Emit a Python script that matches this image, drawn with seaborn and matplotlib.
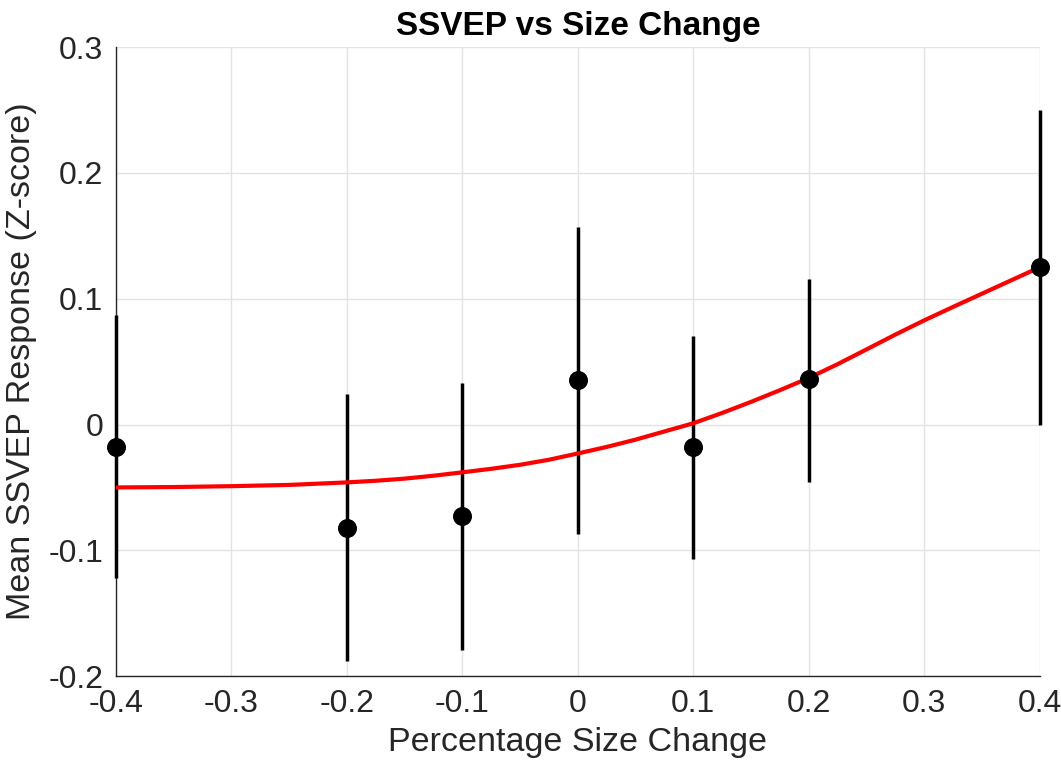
import numpy as np
import pandas as pd
import matplotlib
matplotlib.use("Agg")
import matplotlib.pyplot as plt
import seaborn as sns

# measured points (mean + error bar limits)
size_change = [-0.4, -0.2, -0.1, 0.0, 0.1, 0.2, 0.4]
mean_resp = [-0.018, -0.082, -0.073, 0.035, -0.018, 0.036, 0.125]
err_top = [0.087, 0.024, 0.033, 0.157, 0.070, 0.116, 0.250]
err_bottom = [-0.122, -0.188, -0.179, -0.087, -0.107, -0.046, 0.000]

# fitted curve
fit_x = [-0.4, -0.35, -0.3, -0.25, -0.2, -0.175, -0.15, -0.125, -0.1, -0.075, -0.05,
         -0.025, 0.0, 0.025, 0.05, 0.075, 0.1, 0.125, 0.15, 0.175, 0.2, 0.225,
         0.25, 0.275, 0.3, 0.325, 0.35, 0.375, 0.4]
fit_y = [-0.050, -0.0497, -0.049, -0.048, -0.046, -0.0447, -0.043, -0.0407, -0.038,
         -0.0352, -0.032, -0.028, -0.023, -0.0178, -0.012, -0.0055, 0.001, 0.0092,
         0.018, 0.0273, 0.037, 0.048, 0.0597, 0.0715, 0.0828, 0.0935, 0.104, 0.1145, 0.125]

xticks = [-0.4, -0.3, -0.2, -0.1, 0, 0.1, 0.2, 0.3, 0.4]
yticks = [-0.2, -0.1, 0, 0.1, 0.2, 0.3]

sns.set_style("whitegrid")
plt.rcParams['font.family'] = ['Liberation Sans', 'DejaVu Sans']

df = pd.DataFrame({"x": size_change, "y": mean_resp})
fit = pd.DataFrame({"x": fit_x, "y": fit_y})

fig = plt.figure(figsize=(10.61, 7.71), dpi=100)
ax = fig.add_axes([0.1093, 0.123, 0.8707, 0.816])

yerr = [np.array(mean_resp) - np.array(err_bottom), np.array(err_top) - np.array(mean_resp)]
eb = ax.errorbar(size_change, mean_resp, yerr=yerr, fmt='none', ecolor='black',
                 elinewidth=2.5, capsize=0, zorder=3)
for c in eb.lines[2]:
    c.set_clip_on(False)
sns.lineplot(data=fit, x="x", y="y", color="red", linewidth=3, ax=ax, zorder=4)
sns.scatterplot(data=df, x="x", y="y", color="black", s=160, edgecolor="black",
                ax=ax, zorder=5, clip_on=False)

ax.set_xlim(-0.4, 0.4)
ax.set_ylim(-0.2, 0.3)
ax.set_xticks(xticks)
ax.set_yticks(yticks)
ax.set_xticklabels(['-0.4', '-0.3', '-0.2', '-0.1', '0', '0.1', '0.2', '0.3', '0.4'])
ax.set_yticklabels(['-0.2', '-0.1', '0', '0.1', '0.2', '0.3'])
ax.tick_params(direction='in', length=6, width=1, colors='#262626', labelsize=23, pad=9)
ax.grid(True, color='#e3e3e3', linewidth=1)

for s in ['top', 'right']:
    ax.spines[s].set_visible(False)
for s in ['left', 'bottom']:
    ax.spines[s].set_color('#262626')
    ax.spines[s].set_linewidth(1)

ax.set_xlabel('Percentage Size Change', fontsize=24.5, color='#262626', labelpad=6)
ax.set_ylabel('Mean SSVEP Response (Z-score)', fontsize=24.5, color='#262626', labelpad=8)
ax.set_title('SSVEP vs Size Change', fontsize=24, fontweight='bold', color='black', pad=9)

fig.savefig("out.png", dpi=100)
